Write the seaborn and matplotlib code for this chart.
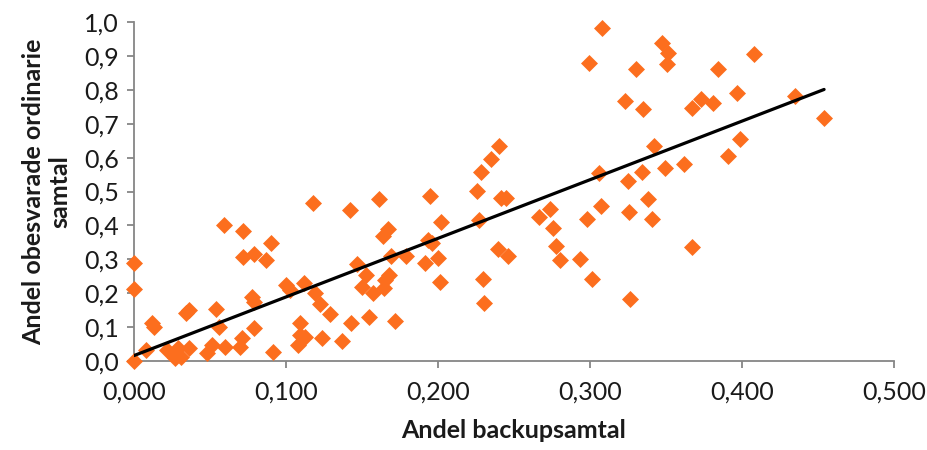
import matplotlib
matplotlib.use("Agg")
import matplotlib.pyplot as plt
import seaborn as sns
import numpy as np
import pandas as pd

# ---- data ----
backup_share = [
    0.000, 0.000, 0.000, 0.008, 0.012, 0.013, 0.022, 0.026, 0.027, 0.029,
    0.031, 0.036, 0.034, 0.036, 0.048, 0.051, 0.054, 0.056, 0.060, 0.059,
    0.0715, 0.0715, 0.079, 0.0866, 0.090, 0.0776, 0.079, 0.079, 0.0708, 0.0697,
    0.0917, 0.100, 0.1026, 0.112, 0.119, 0.1224, 0.129, 0.109, 0.109, 0.1125,
    0.108, 0.124, 0.137, 0.143, 0.1175, 0.142, 0.1465, 0.1526, 0.150, 0.157,
    0.1548, 0.161, 0.1636, 0.167, 0.1645, 0.168, 0.165, 0.169, 0.172, 0.179,
    0.1914, 0.1947, 0.1936, 0.196, 0.1998, 0.2018, 0.201, 0.2254, 0.227, 0.2298,
    0.2305, 0.2397, 0.2458, 0.2412, 0.2447, 0.240, 0.235, 0.228, 0.2664, 0.274,
    0.2758, 0.2776, 0.280, 0.2934, 0.301, 0.2983, 0.3075, 0.3257, 0.3406, 0.338,
    0.3263, 0.367, 0.306, 0.325, 0.334, 0.3495, 0.3616, 0.342, 0.3228, 0.3347,
    0.3673, 0.373, 0.381, 0.3965, 0.435, 0.454, 0.3987, 0.3906, 0.308, 0.2996,
    0.330, 0.3476, 0.3515, 0.3509, 0.408, 0.384,
]
unanswered_share = [
    0.000, 0.288, 0.212, 0.032, 0.111, 0.101, 0.032, 0.022, 0.008, 0.037,
    0.013, 0.037, 0.142, 0.150, 0.023, 0.047, 0.153, 0.101, 0.042, 0.401,
    0.384, 0.308, 0.316, 0.298, 0.347, 0.188, 0.175, 0.098, 0.067, 0.042,
    0.026, 0.224, 0.209, 0.229, 0.200, 0.167, 0.140, 0.111, 0.077, 0.072,
    0.047, 0.067, 0.060, 0.111, 0.467, 0.445, 0.286, 0.254, 0.217, 0.200,
    0.131, 0.477, 0.369, 0.388, 0.214, 0.254, 0.239, 0.310, 0.119, 0.310,
    0.290, 0.487, 0.357, 0.347, 0.305, 0.410, 0.232, 0.501, 0.415, 0.242,
    0.172, 0.329, 0.310, 0.480, 0.480, 0.634, 0.595, 0.558, 0.424, 0.448,
    0.391, 0.339, 0.298, 0.300, 0.242, 0.418, 0.458, 0.440, 0.418, 0.477,
    0.182, 0.337, 0.556, 0.532, 0.558, 0.568, 0.581, 0.634, 0.766, 0.742,
    0.747, 0.772, 0.762, 0.792, 0.782, 0.716, 0.656, 0.606, 0.981, 0.878,
    0.861, 0.937, 0.910, 0.876, 0.906, 0.861,
]
trend_x = [0.000, 0.454]
trend_y = [0.016, 0.801]

x_ticks = [0.0, 0.1, 0.2, 0.3, 0.4, 0.5]
x_tick_labels = ["0,000", "0,100", "0,200", "0,300", "0,400", "0,500"]
y_ticks = [0.0, 0.1, 0.2, 0.3, 0.4, 0.5, 0.6, 0.7, 0.8, 0.9, 1.0]
y_tick_labels = ["0,0", "0,1", "0,2", "0,3", "0,4", "0,5", "0,6", "0,7", "0,8", "0,9", "1,0"]

x_title = "Andel backupsamtal"
y_title = "Andel obesvarade ordinarie\nsamtal"

df = pd.DataFrame({"x": backup_share, "y": unanswered_share})
trend = pd.DataFrame({"x": trend_x, "y": trend_y})

sns.set_theme(style="white")
plt.rcParams["font.family"] = ["Lato", "DejaVu Sans"]

fig = plt.figure(figsize=(9.28, 4.5), dpi=100)
ax = fig.add_axes([134 / 928, 1 - 361 / 450, (894 - 134) / 928, (361 - 22) / 450])

orange = "#FC6E1E"
sns.scatterplot(data=df, x="x", y="y", ax=ax, marker="D", s=75,
                color=orange, edgecolor=orange, linewidth=0, zorder=4,
                clip_on=False)
sns.lineplot(data=trend, x="x", y="y", ax=ax, color="black", linewidth=2.3, zorder=5)

ax.set_xlim(0, 0.5)
ax.set_ylim(0, 1.0)
ax.set_xticks(x_ticks)
ax.set_xticklabels(x_tick_labels)
ax.set_yticks(y_ticks)
ax.set_yticklabels(y_tick_labels)

spine_col = "#868686"
for s in ["top", "right"]:
    ax.spines[s].set_visible(False)
for s in ["left", "bottom"]:
    ax.spines[s].set_color(spine_col)
    ax.spines[s].set_linewidth(1.3)
    ax.spines[s].set_zorder(1)
ax.tick_params(axis="both", which="major", direction="out", length=5, width=1.3,
               color=spine_col, labelsize=18, labelcolor="#1a1a1a", pad=6)
ax.tick_params(axis="x", bottom=True, pad=9)
ax.tick_params(axis="y", left=True)

ax.set_xlabel(x_title, fontsize=18, fontweight="bold", color="#1a1a1a", labelpad=11)
ax.set_ylabel(y_title, fontsize=18, fontweight="bold", color="#1a1a1a", labelpad=9,
              linespacing=1.15)
ax.grid(False)

fig.savefig("out.png", dpi=100)
